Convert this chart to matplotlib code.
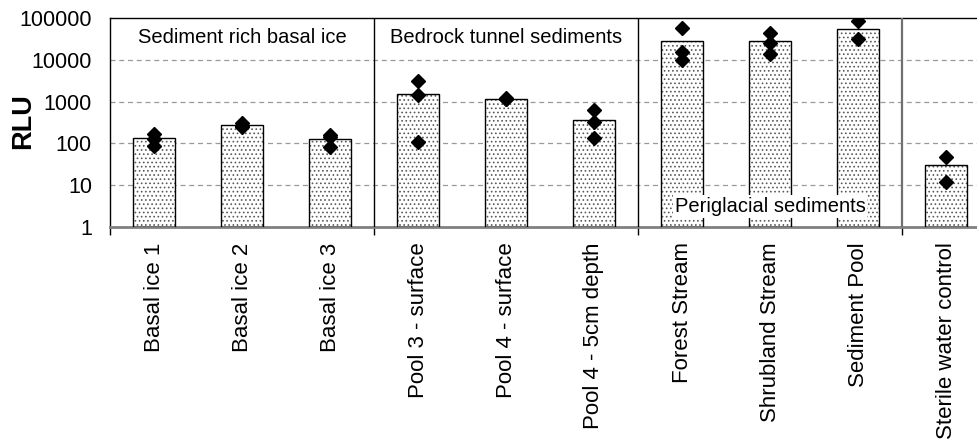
import numpy as np
import matplotlib.pyplot as plt
from matplotlib.ticker import FixedLocator, NullFormatter

plt.rcParams['font.family'] = ['Liberation Sans', 'DejaVu Sans']
plt.rcParams['hatch.linewidth'] = 0.7

samples = ["Basal ice 1", "Basal ice 2", "Basal ice 3",
           "Pool 3 - surface", "Pool 4 - surface", "Pool 4 - 5cm depth",
           "Forest Stream", "Shrubland Stream", "Sediment Pool",
           "Sterile water control"]
mean_rlu = [133, 275, 125, 1490, 1170, 356, 28000, 28000, 55000, 29]
replicates = [
    [170, 130, 85],
    [310, 250, 265],
    [155, 140, 80],
    [3100, 1440, 106],
    [1200, 1150, 1160],
    [630, 325, 133],
    [59000, 15600, 10000],
    [43000, 24800, 13700],
    [85000, 31000],
    [48, 12],
]
groups = ["Sediment rich basal ice", "Bedrock tunnel sediments",
          "Periglacial sediments", ""]
group_sizes = [3, 3, 3, 1]

fig = plt.figure(figsize=(9.77, 4.44), dpi=100)
ax = fig.add_axes([110 / 977, 1 - 227 / 444, 880 / 977, 209 / 444])

x = np.arange(len(samples))
ax.set_yscale('log')
ax.set_ylim(1, 100000)
ax.set_xlim(-0.5, len(samples) - 0.5)

# gridlines behind the bars
for v in [10, 100, 1000, 10000]:
    ax.axhline(v, color='#9a9a9a', lw=0.9, ls=(0, (4, 3)), zorder=0)

# dotted fill, then a black outline on top
ax.bar(x, mean_rlu, width=0.47, bottom=1, color='white', edgecolor='#5a5a5a',
       hatch='....', lw=0, zorder=2)
ax.bar(x, mean_rlu, width=0.47, bottom=1, fill=False, edgecolor='black',
       lw=1, zorder=3)

for i, reps in enumerate(replicates):
    ax.plot([x[i]] * len(reps), reps, ls='none', marker='D', ms=7,
            color='black', zorder=4)

# group dividers (the control one is grey)
bounds = np.cumsum(group_sizes)[:-1] - 0.5
for b in bounds:
    if b == bounds[-1]:
        ax.axvline(b, color='#707070', lw=1.6, zorder=3)
    else:
        ax.axvline(b, color='black', lw=1, zorder=3)

starts = np.concatenate([[0], np.cumsum(group_sizes)[:-1]])
for name, s, n in zip(groups, starts, group_sizes):
    if not name:
        continue
    cx = s + (n - 1) / 2
    if name == "Periglacial sediments":
        ax.text(cx, 0.097, name, transform=ax.get_xaxis_transform(),
                ha='center', va='center', fontsize=14.5, zorder=5,
                bbox=dict(facecolor='white', edgecolor='none', pad=1.5))
    else:
        ax.text(cx, 0.905, name, transform=ax.get_xaxis_transform(),
                ha='center', va='center', fontsize=14.5, zorder=5)

# y axis
ax.yaxis.set_major_locator(FixedLocator([1, 10, 100, 1000, 10000, 100000]))
ax.yaxis.set_minor_locator(FixedLocator([]))
ax.set_yticklabels(['1', '10', '100', '1000', '10000', '100000'])
ax.tick_params(axis='y', which='major', length=0, pad=13, labelsize=15.5)

# x axis: sample names under the bars, ticks at the group edges
ax.xaxis.set_major_locator(FixedLocator(np.concatenate([[-0.5], bounds])))
ax.xaxis.set_major_formatter(NullFormatter())
ax.xaxis.set_minor_locator(FixedLocator(x))
ax.set_xticklabels(samples, minor=True, rotation=90)
ax.tick_params(axis='x', which='major', length=6, width=1, direction='out')
ax.tick_params(axis='x', which='minor', length=0, pad=11, labelsize=16)

for side in ['top', 'left']:
    ax.spines[side].set_color('black')
    ax.spines[side].set_linewidth(1)
ax.spines['bottom'].set_color('#808080')
ax.spines['bottom'].set_linewidth(2)
ax.spines['right'].set_visible(False)

fig.text(23 / 977, 1 - 121 / 444, 'RLU', rotation=90, ha='center',
         va='center', fontsize=19.5, fontweight='bold')

fig.savefig('out.png', dpi=100)
